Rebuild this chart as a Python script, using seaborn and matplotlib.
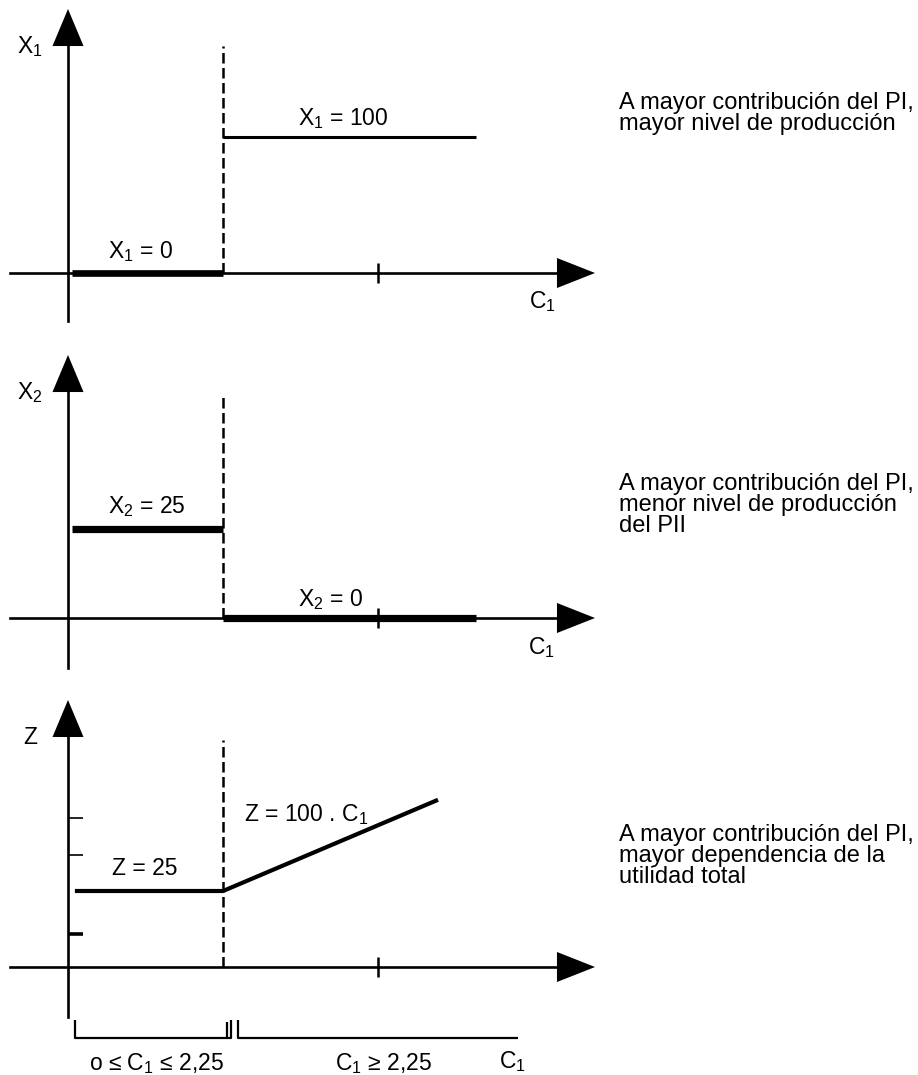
import matplotlib
matplotlib.use("Agg")
import matplotlib.pyplot as plt
import seaborn as sns

# ---------------- data (schematic values) ----------------
c1_threshold = 2.25          # C1 where the optimum switches
c1_axis_tick = [4.5]         # tick mark on every C1 axis
c1_seg_start = 0.06
c1_seg_end = 5.92

x1_c1_low = [c1_seg_start, c1_threshold]
x1_low = [0, 0]
x1_c1_high = [c1_threshold, c1_seg_end]
x1_high = [100, 100]

x2_c1_low = [c1_seg_start, c1_threshold]
x2_low = [25, 25]
x2_c1_high = [c1_threshold, c1_seg_end]
x2_high = [0, 0]

z_c1 = [0.10, 2.25, 5.37]
z_vals = [25, 25, 55]
z_yticks = [11, 37, 49]

axis_names = ["X$_1$", "X$_2$", "Z"]
seg_labels = [["X$_1$ = 0", "X$_1$ = 100"],
              ["X$_2$ = 25", "X$_2$ = 0"],
              ["Z = 25", "Z = 100 . C$_1$"]]
notes = [["A mayor contribución del PI,", "mayor nivel de producción"],
         ["A mayor contribución del PI,", "menor nivel de producción", "del PII"],
         ["A mayor contribución del PI,", "mayor dependencia de la", "utilidad total"]]
range_labels = ["o ≤ C$_1$ ≤ 2,25", "C$_1$ ≥ 2,25", "C$_1$"]

# ---------------- style ----------------
sns.set_style("white")
plt.rcParams["font.family"] = ["Liberation Sans", "DejaVu Sans"]
plt.rcParams["mathtext.fontset"] = "custom"
plt.rcParams["mathtext.rm"] = "Liberation Sans"
plt.rcParams["mathtext.it"] = "Liberation Sans"
plt.rcParams["mathtext.bf"] = "Liberation Sans:bold"
plt.rcParams["text.color"] = "black"

W, H = 918, 1075
fig = plt.figure(figsize=(W / 100, H / 100), dpi=100)
FS = 16.5
FS_NOTE = 17
PT = 100 / 72.0  # pixels per point

X0, SX = 68.0, 68.9  # pixel of C1=0 and pixels per C1 unit


def cx(px):
    return (px - X0) / SX


# panel layout (pixel geometry)
layout = [
    dict(top=0, bot=330, ay=273, sy=1.36, ytip=9, ybot=321, dtop=46),
    dict(top=330, bot=680, ay=618, sy=3.56, ytip=355, ybot=668, dtop=393),
    dict(top=680, bot=1075, ay=967, sy=3.04, ytip=700, ybot=1017, dtop=740),
]

axes = []
for g in layout:
    ax = fig.add_axes([0, 1 - g["bot"] / H, 1, (g["bot"] - g["top"]) / H])
    ax.set_facecolor("none")
    ax.set_xlim(cx(0), cx(W))
    ax.set_ylim((g["ay"] - g["bot"]) / g["sy"], (g["ay"] - g["top"]) / g["sy"])
    axes.append(ax)


def make_cy(g):
    return lambda py: (g["ay"] - py) / g["sy"]


arrow_kw = dict(color="black", lw=0.01, shrinkA=0, shrinkB=0, mutation_scale=1)

for i, (ax, g) in enumerate(zip(axes, layout)):
    cy = make_cy(g)
    for s in ["top", "right"]:
        ax.spines[s].set_visible(False)
    ax.spines["left"].set_position(("data", 0))
    ax.spines["bottom"].set_position(("data", 0))
    ax.spines["left"].set_bounds(cy(g["ybot"]), cy(g["ytip"] + 30))
    ax.spines["bottom"].set_bounds(cx(10), cx(560))
    for s in ["left", "bottom"]:
        ax.spines[s].set_linewidth(1.9)
        ax.spines[s].set_color("black")
    ax.set_xticks(c1_axis_tick)
    ax.set_xticklabels([])
    ax.tick_params(axis="x", bottom=True, direction="inout", length=14,
                   width=1.8, color="black")
    if i == 2:
        ax.set_yticks(z_yticks)
        ax.set_yticklabels([])
        ax.tick_params(axis="y", left=True, direction="in", length=11,
                       width=1.2, color="black")
        ax.yaxis.get_major_ticks()[0].tick1line.set_markeredgewidth(2.6)
    else:
        ax.set_yticks([])
    # arrow heads
    ax.annotate("", xy=(cx(595), 0), xytext=(cx(540), 0),
                arrowprops=dict(arrowstyle="-|>,head_length=%.2f,head_width=%.2f"
                                % (38 / PT, 15 / PT), **arrow_kw))
    ax.annotate("", xy=(0, cy(g["ytip"])), xytext=(0, cy(g["ytip"] + 60)),
                arrowprops=dict(arrowstyle="-|>,head_length=%.2f,head_width=%.2f"
                                % (37 / PT, 15.5 / PT), **arrow_kw))
    # dashed threshold line
    ax.plot([c1_threshold, c1_threshold], [0, cy(g["dtop"])], color="black",
            lw=1.8, ls=(0, (4.2, 1.8)), solid_capstyle="butt")
    # axis name
    ax.text(cx(30), cy(g["ytip"] + 44), axis_names[i], fontsize=FS,
            ha="center", va="baseline")

line_kw = dict(color="black", solid_capstyle="butt", legend=False)
# panel 1 data
sns.lineplot(x=x1_c1_low, y=x1_low, ax=axes[0], lw=4.8, **line_kw)
sns.lineplot(x=x1_c1_high, y=x1_high, ax=axes[0], lw=2.2, **line_kw)
# panel 2 data
sns.lineplot(x=x2_c1_low, y=x2_low, ax=axes[1], lw=5.2, **line_kw)
sns.lineplot(x=x2_c1_high, y=x2_high, ax=axes[1], lw=5.2, **line_kw)
# panel 3 data
sns.lineplot(x=z_c1, y=z_vals, ax=axes[2], lw=3.0, sort=False, **line_kw)

# segment labels & C1 axis names
cy0, cy1, cy2 = (make_cy(g) for g in layout)
axes[0].text(cx(140), cy0(258), seg_labels[0][0], fontsize=FS, ha="center", va="baseline")
axes[0].text(cx(343), cy0(125), seg_labels[0][1], fontsize=FS, ha="center", va="baseline")
axes[0].text(cx(542), cy0(308), "C$_1$", fontsize=FS, ha="center", va="baseline")
axes[1].text(cx(147), cy1(513), seg_labels[1][0], fontsize=FS, ha="center", va="baseline")
axes[1].text(cx(330), cy1(606), seg_labels[1][1], fontsize=FS, ha="center", va="baseline")
axes[1].text(cx(541), cy1(654), "C$_1$", fontsize=FS, ha="center", va="baseline")
axes[2].text(cx(145), cy2(875), seg_labels[2][0], fontsize=FS, ha="center", va="baseline")
axes[2].text(cx(306), cy2(821), seg_labels[2][1], fontsize=FS, ha="center", va="baseline")

# range brackets under panel 3
bk = dict(color="black", lw=1.6, solid_capstyle="butt")
axes[2].plot([cx(75), cx(75), cx(231), cx(231)],
             [cy2(1020), cy2(1038), cy2(1038), cy2(1020)], **bk)
axes[2].plot([cx(227), cx(227)], [cy2(1022), cy2(1038)], **bk)
axes[2].plot([cx(238), cx(238), cx(518)], [cy2(1020), cy2(1038), cy2(1038)], **bk)
axes[2].text(cx(157), cy2(1070), range_labels[0], fontsize=FS, ha="center", va="baseline")
axes[2].text(cx(384), cy2(1070), range_labels[1], fontsize=FS, ha="center", va="baseline")
axes[2].text(cx(512), cy2(1068), range_labels[2], fontsize=FS, ha="center", va="baseline")

# notes on the right
first_line = [109, 490, 841]
for lines, y0 in zip(notes, first_line):
    for k, line in enumerate(lines):
        fig.text(619 / W, 1 - (y0 + 21 * k) / H, line, fontsize=FS_NOTE,
                 ha="left", va="baseline")

for ax in axes:
    ax.set_xlabel("")
    ax.set_ylabel("")

fig.savefig("out.png", dpi=100)
